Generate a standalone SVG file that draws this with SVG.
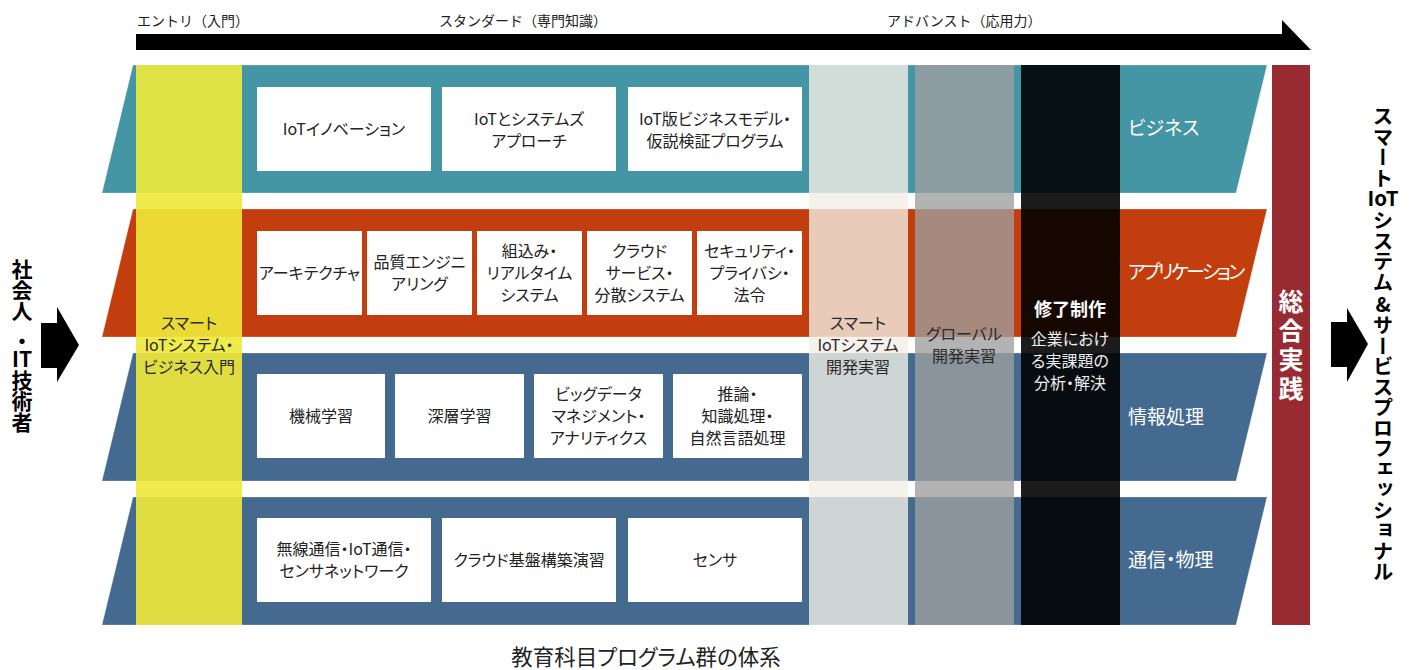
<svg xmlns="http://www.w3.org/2000/svg" width="1411" height="670" viewBox="0 0 1411 670">
<style>
text{font-family:"Noto Sans CJK JP","Noto Sans",sans-serif;font-feature-settings:"palt";}
.vt{writing-mode:vertical-rl;font-feature-settings:normal;}
.top{font-size:14px;fill:#222;font-feature-settings:normal;}
.box{fill:#fff;}
.bt{font-size:16px;fill:#222;text-anchor:middle;}
.lbl{font-size:19px;fill:#fff;}
.band{stroke:#fff;stroke-opacity:0.25;stroke-width:1;}
.ct{font-size:16px;fill:#2a2a2a;text-anchor:middle;}
.wt{font-size:16px;fill:#eee;text-anchor:middle;}
.side{font-size:21px;font-weight:700;fill:#000;}
.rside{font-size:20.5px;font-weight:700;fill:#000;}
</style>

<g id="connectors">
  <polygon id="progress-arrow" points="136,34 1282,34 1282,20 1311,50 136,50" fill="#000"/>
  <polygon id="arrow-in" points="41,323 57,323 57,307 79,345 57,382 57,368 41,368" fill="#000"/>
  <polygon id="arrow-out" points="1331,322 1347,322 1347,308 1368,344 1347,382 1347,367 1331,367" fill="#000"/>
</g>

<g id="stage-labels">
  <text class="top" x="137" y="25.5">エントリ（入門）</text>
  <text class="top" x="439" y="25.5">スタンダード（専門知識）</text>
  <text class="top" x="887" y="25.5">アドバンスト（応用力）</text>
</g>

<g id="band-business">
  <polygon class="band" points="133,65 1267,65 1236,193 102,193" fill="#4596A5"/>
  <rect class="box" x="257" y="87" width="174" height="84"/>
  <rect class="box" x="442" y="87" width="174" height="84"/>
  <rect class="box" x="628" y="87" width="174" height="84"/>
  <text class="bt" x="344" y="135">IoTイノベーション</text>
  <text class="bt" x="529" y="125">IoTとシステムズ</text>
  <text class="bt" x="529" y="147">アプローチ</text>
  <text class="bt" x="715" y="125">IoT版ビジネスモデル・</text>
  <text class="bt" x="715" y="147">仮説検証プログラム</text>
  <text class="lbl" x="1128" y="135">ビジネス</text>
</g>

<g id="band-application">
  <polygon class="band" points="133,209 1267,209 1236,337 102,337" fill="#C33E0E"/>
  <rect class="box" x="257" y="231" width="105" height="84"/>
  <rect class="box" x="367" y="231" width="105" height="84"/>
  <rect class="box" x="477" y="231" width="105" height="84"/>
  <rect class="box" x="587" y="231" width="105" height="84"/>
  <rect class="box" x="697" y="231" width="105" height="84"/>
  <text class="bt" x="309.5" y="279">アーキテクチャ</text>
  <text class="bt" x="419.5" y="268">品質エンジニ</text>
  <text class="bt" x="419.5" y="290">アリング</text>
  <text class="bt" x="529.5" y="257">組込み・</text>
  <text class="bt" x="529.5" y="279">リアルタイム</text>
  <text class="bt" x="529.5" y="301">システム</text>
  <text class="bt" x="639.5" y="257">クラウド</text>
  <text class="bt" x="639.5" y="279">サービス・</text>
  <text class="bt" x="639.5" y="301">分散システム</text>
  <text class="bt" x="749.5" y="257">セキュリティ・</text>
  <text class="bt" x="749.5" y="279">プライバシ・</text>
  <text class="bt" x="749.5" y="301">法令</text>
  <text class="lbl" x="1128" y="279" letter-spacing="-2.6">アプリケーション</text>
</g>

<g id="band-information">
  <polygon class="band" points="133,353 1267,353 1236,481 102,481" fill="#446A8F"/>
  <rect class="box" x="257" y="374" width="128" height="84"/>
  <rect class="box" x="395" y="374" width="129" height="84"/>
  <rect class="box" x="534" y="374" width="129" height="84"/>
  <rect class="box" x="673" y="374" width="129" height="84"/>
  <text class="bt" x="321" y="422">機械学習</text>
  <text class="bt" x="459.5" y="422">深層学習</text>
  <text class="bt" x="598.5" y="400">ビッグデータ</text>
  <text class="bt" x="598.5" y="422">マネジメント・</text>
  <text class="bt" x="598.5" y="444">アナリティクス</text>
  <text class="bt" x="737.5" y="400">推論・</text>
  <text class="bt" x="737.5" y="422">知識処理・</text>
  <text class="bt" x="737.5" y="444">自然言語処理</text>
  <text class="lbl" x="1128" y="424">情報処理</text>
</g>

<g id="band-communication">
  <polygon class="band" points="133,497 1267,497 1236,625 102,625" fill="#446A8F"/>
  <rect class="box" x="257" y="518" width="174" height="84"/>
  <rect class="box" x="442" y="518" width="174" height="84"/>
  <rect class="box" x="628" y="518" width="174" height="84"/>
  <text class="bt" x="344" y="555">無線通信・IoT通信・</text>
  <text class="bt" x="344" y="577">センサネットワーク</text>
  <text class="bt" x="529" y="566">クラウド基盤構築演習</text>
  <text class="bt" x="715" y="566">センサ</text>
  <text class="lbl" x="1128" y="567">通信・物理</text>
</g>

<g id="col-entry">
  <rect x="136" y="65" width="106" height="560" fill="rgb(238,233,58)" fill-opacity="0.91"/>
  <text class="ct" x="189" y="329">スマート</text>
  <text class="ct" x="189" y="351">IoTシステム・</text>
  <text class="ct" x="189" y="373">ビジネス入門</text>
</g>

<g id="col-dev-practice">
  <rect x="809" y="65" width="99" height="560" fill="rgb(243,239,230)" fill-opacity="0.8"/>
  <text class="ct" x="858" y="329">スマート</text>
  <text class="ct" x="858" y="351">IoTシステム</text>
  <text class="ct" x="858" y="373">開発実習</text>
</g>

<g id="col-global">
  <rect x="915" y="65" width="99" height="560" fill="rgb(159,159,159)" fill-opacity="0.79"/>
  <text class="ct" x="964" y="340">グローバル</text>
  <text class="ct" x="964" y="362">開発実習</text>
</g>

<g id="col-thesis">
  <rect x="1021" y="65" width="99" height="560" fill="#000" fill-opacity="0.89"/>
  <text x="1070" y="316" font-size="18" font-weight="700" fill="#fff" text-anchor="middle">修了制作</text>
  <text class="wt" x="1070" y="345">企業におけ</text>
  <text class="wt" x="1070" y="367">る実課題の</text>
  <text class="wt" x="1070" y="389">分析・解決</text>
</g>

<g id="col-practice">
  <rect x="1272" y="65" width="38" height="560" fill="#982A32"/>
  <text class="vt" x="1291" y="289" font-size="25" font-weight="700" fill="#fff" letter-spacing="4">総合実践</text>
</g>

<g id="source">
  <text class="vt side" x="22" y="259">社会人</text>
  <text class="side" x="22" y="349" text-anchor="middle">・</text>
  <text class="side" x="22" y="367" text-anchor="middle">IT</text>
  <text class="vt side" x="22" y="370">技術者</text>
</g>

<g id="goal">
  <text class="vt rside" x="1383" y="106">スマート</text>
  <text class="rside" x="1383" y="206" text-anchor="middle">IoT</text>
  <text class="vt rside" x="1383" y="210">システム</text>
  <text class="rside" x="1383" y="312" text-anchor="middle">&amp;</text>
  <text class="vt rside" x="1383" y="315">サービスプロフェッショナル</text>
</g>

<g id="caption">
  <text x="646" y="665" font-size="21.5" fill="#222" text-anchor="middle">教育科目プログラム群の体系</text>
</g>
</svg>
